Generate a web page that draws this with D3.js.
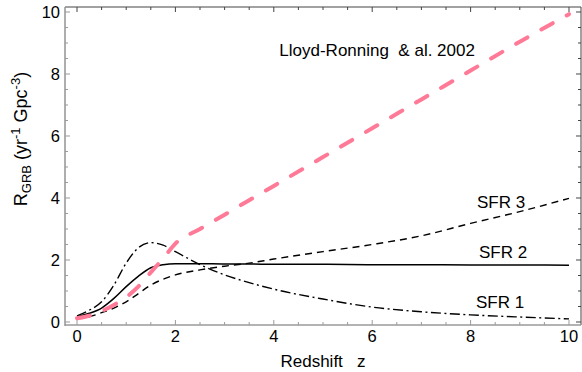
<!DOCTYPE html>
<html>
<head>
<meta charset="utf-8">
<script src="https://cdn.jsdelivr.net/npm/d3@7"></script>
<style>
  body { margin: 0; background: #fff; }
  svg { display: block; }
  text { font-family: "Liberation Sans", Arial, Helvetica, sans-serif; fill: #000; }
</style>
</head>
<body>
<script>
const WIDTH = 582, HEIGHT = 372;

// redshift samples
const Z = [0, 0.25, 0.5, 0.75, 1, 1.25, 1.5, 1.75, 2, 2.5, 3, 3.5, 4, 5, 6, 7, 8, 9, 10];
// GRB rate for each model (yr^-1 Gpc^-3)
const SFR1 = [0.2, 0.38, 0.65, 1.19, 1.9, 2.4, 2.56, 2.48, 2.27, 1.85, 1.52, 1.27, 1.06, 0.74, 0.48, 0.33, 0.23, 0.16, 0.1];
const SFR2 = [0.17, 0.28, 0.45, 0.76, 1.14, 1.48, 1.75, 1.85, 1.88, 1.88, 1.87, 1.87, 1.86, 1.86, 1.85, 1.85, 1.84, 1.84, 1.83];
const SFR3 = [0.12, 0.17, 0.3, 0.45, 0.65, 0.92, 1.19, 1.38, 1.52, 1.68, 1.8, 1.9, 2.03, 2.27, 2.5, 2.78, 3.18, 3.56, 3.99];
const LLOYD = [0.12, 0.2, 0.35, 0.55, 0.8, 1.15, 1.6, 2.05, 2.53, 3.0, 3.46, 3.93, 4.39, 5.32, 6.25, 7.18, 8.11, 9.04, 9.93];

const X_TICKS = [0, 2, 4, 6, 8, 10];
const Y_TICKS = [0, 2, 4, 6, 8, 10];

const frame = {left: 65, right: 581, top: 7, bottom: 325};

function main() {
    let svg = d3.select("body").append("svg")
        .attr("width", WIDTH)
        .attr("height", HEIGHT);

    let x = d3.scaleLinear().domain([-0.244, 10.244]).range([frame.left, frame.right]);
    let y = d3.scaleLinear().domain([-0.097, 10.161]).range([frame.bottom, frame.top]);

    let minorX = d3.range(0, 10.01, 0.5);
    let minorY = d3.range(0, 10.01, 0.5);

    // inward ticks on all four sides
    let ticks = svg.append("g");
    const light = "#9a9a9a", dark = "#444";
    minorX.forEach(v => {
        let len = (v % 2 === 0) ? 5 : 3;
        ticks.append("line").attr("x1", x(v)).attr("x2", x(v))
            .attr("y1", frame.bottom).attr("y2", frame.bottom - len)
            .attr("stroke", light).attr("stroke-width", 1);
        ticks.append("line").attr("x1", x(v)).attr("x2", x(v))
            .attr("y1", frame.top).attr("y2", frame.top + len)
            .attr("stroke", dark).attr("stroke-width", 1);
    });
    minorY.forEach(v => {
        let len = (v % 2 === 0) ? 5 : 3;
        ticks.append("line").attr("y1", y(v)).attr("y2", y(v))
            .attr("x1", frame.left).attr("x2", frame.left + len)
            .attr("stroke", light).attr("stroke-width", 1);
        ticks.append("line").attr("y1", y(v)).attr("y2", y(v))
            .attr("x1", frame.right).attr("x2", frame.right - len)
            .attr("stroke", dark).attr("stroke-width", 1);
    });

    // frame
    svg.append("line").attr("x1", frame.left).attr("x2", frame.right)
        .attr("y1", frame.top).attr("y2", frame.top).attr("stroke", dark).attr("stroke-width", 1);
    svg.append("line").attr("x1", frame.right).attr("x2", frame.right)
        .attr("y1", frame.top).attr("y2", frame.bottom).attr("stroke", dark).attr("stroke-width", 1);
    svg.append("line").attr("x1", frame.left).attr("x2", frame.left)
        .attr("y1", frame.top).attr("y2", frame.bottom + 1).attr("stroke", light).attr("stroke-width", 1.6);
    svg.append("line").attr("x1", frame.left).attr("x2", frame.right)
        .attr("y1", frame.bottom).attr("y2", frame.bottom).attr("stroke", light).attr("stroke-width", 1.6);

    // tick labels
    svg.append("g").selectAll("text").data(X_TICKS).enter().append("text")
        .attr("x", d => x(d)).attr("y", frame.bottom + 17)
        .attr("text-anchor", "middle").style("font-size", "16.5px")
        .text(d => d);
    svg.append("g").selectAll("text").data(Y_TICKS).enter().append("text")
        .attr("x", frame.left - 5).attr("y", d => y(d)).attr("dy", "0.35em")
        .attr("text-anchor", "end").style("font-size", "16.5px")
        .text(d => d);

    // axis labels
    svg.append("text").attr("x", 323).attr("y", 367)
        .attr("text-anchor", "middle").style("font-size", "17px").style("white-space", "pre")
        .text("Redshift   z");

    let yl = svg.append("text")
        .attr("transform", "translate(27,139) rotate(-90)")
        .attr("text-anchor", "middle").style("font-size", "18px").style("white-space", "pre");
    yl.append("tspan").text("R");
    yl.append("tspan").attr("dy", 4).style("font-size", "13px").text("GRB");
    yl.append("tspan").attr("dy", -4).text(" (yr");
    yl.append("tspan").attr("dy", -7).style("font-size", "13px").text("-1");
    yl.append("tspan").attr("dy", 7).text(" Gpc");
    yl.append("tspan").attr("dy", -7).style("font-size", "13px").text("-3");
    yl.append("tspan").attr("dy", 7).text(")");

    // curves
    svg.append("clipPath").attr("id", "clip").append("rect")
        .attr("x", frame.left).attr("y", frame.top)
        .attr("width", frame.right - frame.left).attr("height", frame.bottom - frame.top);

    let line = d3.line().x(d => x(d[0])).y(d => y(d[1])).curve(d3.curveMonotoneX);
    let series = [
        {vals: SFR1, color: "#000", width: 1.4, dash: "10,3.5,2,3.5", cap: "butt"},
        {vals: SFR2, color: "#000", width: 1.5, dash: null, cap: "butt"},
        {vals: SFR3, color: "#000", width: 1.4, dash: "7,5", cap: "butt"},
        {vals: LLOYD, color: "#ff7a96", width: 4, dash: "13,16", cap: "round"}
    ];
    let g = svg.append("g").attr("clip-path", "url(#clip)");
    series.forEach(s => {
        g.append("path")
            .datum(Z.map((z, i) => [z, s.vals[i]]))
            .attr("d", line)
            .attr("fill", "none")
            .attr("stroke", s.color)
            .attr("stroke-width", s.width)
            .attr("stroke-linecap", s.cap)
            .attr("stroke-dasharray", s.dash);
    });

    // annotations
    let notes = [
        {t: "Lloyd-Ronning  & al. 2002", z: 6.1, v: 8.58},
        {t: "SFR 3", z: 8.62, v: 3.69},
        {t: "SFR 2", z: 8.66, v: 2.05},
        {t: "SFR 1", z: 8.6, v: 0.44}
    ];
    svg.append("g").selectAll("text").data(notes).enter().append("text")
        .attr("x", d => x(d.z)).attr("y", d => y(d.v))
        .attr("text-anchor", "middle").style("font-size", "17px").style("white-space", "pre")
        .text(d => d.t);
}
main();
</script>
</body>
</html>
